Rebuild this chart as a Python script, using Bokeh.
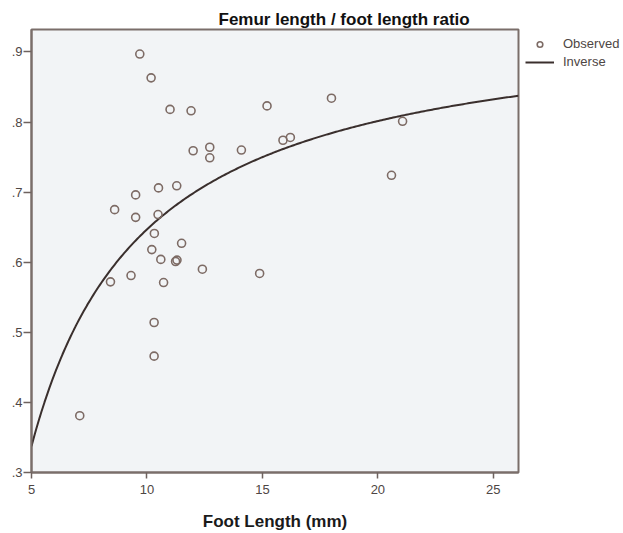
from bokeh.plotting import figure
from bokeh.models import Range1d, FixedTicker, Legend, LegendItem, ColumnDataSource
from bokeh.embed import file_html
from bokeh.resources import INLINE
import numpy as np

# Observed data: foot length (mm) vs femur/foot length ratio
foot_length = [9.69, 10.18, 11.00, 11.91, 12.00, 12.72, 12.72, 14.09, 15.20, 17.99,
               15.89, 16.21, 21.07, 20.59, 10.50, 11.29, 9.51, 8.60, 9.51, 10.48,
               10.32, 11.50, 10.21, 10.60, 11.24, 11.30, 12.40, 14.88, 8.42, 9.31,
               10.72, 10.31, 10.31, 7.09]
ratio = [0.897, 0.863, 0.818, 0.816, 0.759, 0.764, 0.749, 0.760, 0.823, 0.834,
         0.774, 0.778, 0.801, 0.724, 0.706, 0.709, 0.696, 0.675, 0.664, 0.668,
         0.641, 0.627, 0.618, 0.604, 0.601, 0.603, 0.590, 0.584, 0.572, 0.581,
         0.571, 0.514, 0.466, 0.381]

# Inverse model y = b0 + b1 / x (coefficients)
b0 = 0.956
b1 = -3.092

x_ticks = [5, 10, 15, 20, 25]
y_ticks = [0.3, 0.4, 0.5, 0.6, 0.7, 0.8, 0.9]
y_tick_labels = [".3", ".4", ".5", ".6", ".7", ".8", ".9"]

title_text = "Femur length / foot length ratio"
x_label = "Foot Length (mm)"

X_MIN, X_MAX = 5, 26.09
Y_MIN, Y_MAX = 0.3, 0.932

frame_col = "#7a6e6a"
tick_col = "#6e625e"
label_col = "#4e4644"

p = figure(frame_width=487, frame_height=443, output_backend="svg", toolbar_location=None,
           x_range=Range1d(X_MIN, X_MAX), y_range=Range1d(Y_MIN, Y_MAX),
           min_border_left=31, min_border_right=105, min_border_top=29, min_border_bottom=61)
p.border_fill_color = "white"
p.background_fill_color = "#f2f4f6"
p.outline_line_color = frame_col
p.outline_line_width = 2
p.grid.visible = False

p.title.text = title_text
p.title.text_font = "Liberation Sans"
p.title.text_font_style = "bold"
p.title.text_font_size = "17px"
p.title.text_color = "#111111"
p.title.align = "left"
p.title.offset = 187
p.title.standoff = 2

for ax in (p.xaxis[0], p.yaxis[0]):
    ax.axis_line_color = frame_col
    ax.axis_line_width = 2
    ax.major_tick_line_color = tick_col
    ax.major_tick_line_width = 1.5
    ax.major_tick_in = 0
    ax.minor_tick_line_color = None
    ax.major_label_text_color = label_col
    ax.major_label_text_font = "Liberation Sans"
    ax.major_label_text_font_size = "13px"

p.xaxis.major_tick_out = 6
p.yaxis.major_tick_out = 8
p.xaxis.ticker = FixedTicker(ticks=x_ticks)
p.yaxis.ticker = FixedTicker(ticks=y_ticks)
p.yaxis.major_label_overrides = {t: l for t, l in zip(y_ticks, y_tick_labels)}
p.xaxis.major_label_standoff = 6
p.yaxis.major_label_standoff = 1

p.xaxis.axis_label = x_label
p.xaxis.axis_label_text_font = "Liberation Sans"
p.xaxis.axis_label_text_font_style = "bold"
p.xaxis.axis_label_text_font_size = "17px"
p.xaxis.axis_label_text_color = "#1a1a1a"
p.xaxis.axis_label_standoff = 15

# Inverse curve
xc = np.linspace(X_MIN, X_MAX, 300)
yc = b0 + b1 / xc
line_r = p.line(xc, yc, line_color="#3a2f2d", line_width=2)

src = ColumnDataSource(dict(x=foot_length, y=ratio))
pts_r = p.scatter("x", "y", source=src, marker="circle", size=8,
                  fill_color=None, line_color="#7d6b65", line_width=1.6)

legend = Legend(items=[LegendItem(label="Observed", renderers=[pts_r]),
                       LegendItem(label="Inverse", renderers=[line_r])],
                location="top_left", padding=0, margin=7, spacing=3,
                glyph_width=29, glyph_height=14, label_height=14, label_standoff=9,
                label_text_font="Liberation Sans", label_text_font_size="13px",
                label_text_color=label_col, border_line_color=None,
                background_fill_alpha=0)
p.add_layout(legend, "right")

open("out.html", "w").write(file_html(p, INLINE))
